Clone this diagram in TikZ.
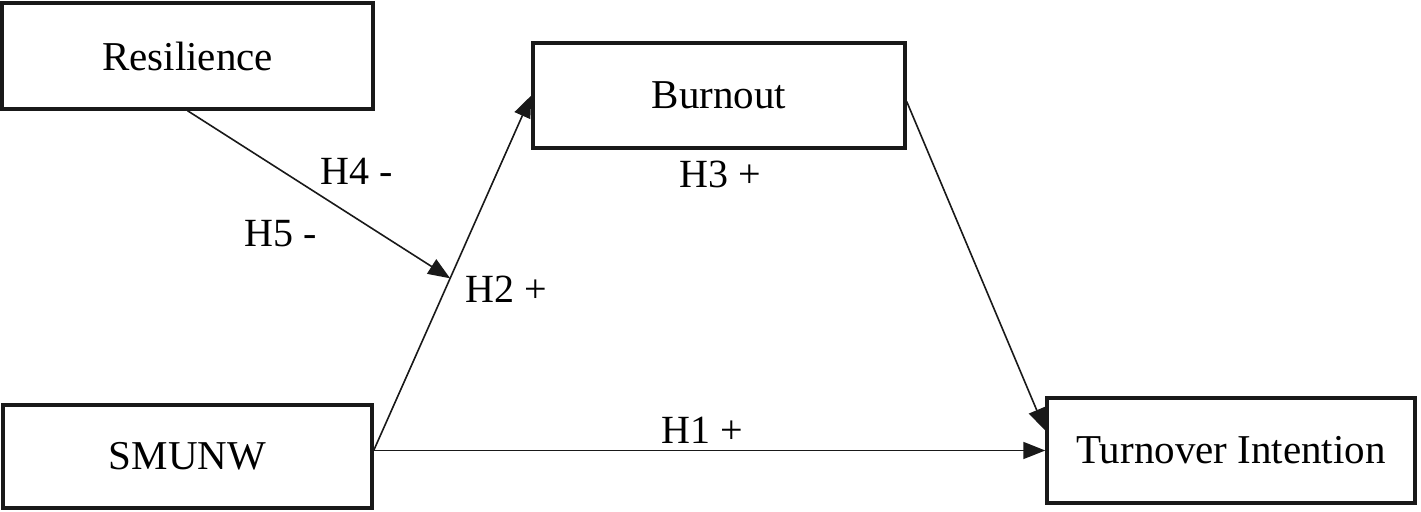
\documentclass[tikz,border=0pt]{standalone}
\usepackage{fontspec}
\setmainfont{Liberation Serif}
\usetikzlibrary{arrows.meta,calc}
\begin{document}
\begin{tikzpicture}[x=0.5pt,y=-0.5pt,
  box/.style={draw=black!90, line width=1.7pt, fill=white, inner sep=0pt,
    font=\fontsize{20.5}{24}\selectfont},
  conn/.style={draw=black!90, line width=0.8pt, -{Triangle[length=11pt,width=8.5pt]}},
  lab/.style={font=\fontsize{20}{24}\selectfont, inner sep=0pt}]
\useasboundingbox (0,0) rectangle (1421,512);
% boxes
\node[box, minimum width=185.5pt, minimum height=53pt] (res) at (187.5,56) {\raisebox{-1.5pt}{Resilience}};
\node[box, minimum width=186pt, minimum height=52.5pt] (burn) at (719,95.5) {\raisebox{-1.5pt}{Burnout}};
\node[box, minimum width=184.5pt, minimum height=51.5pt] (smu) at (187.5,456.5) {\raisebox{-1.5pt}{SMUNW}};
\node[box, minimum width=184pt, minimum height=52.5pt] (turn) at (1231,450.5) {\raisebox{-1.5pt}{Turnover Intention}};
% connection points
\coordinate (s) at (smu.east |- turn.west);
\coordinate (rs) at (res.south);
\coordinate (m) at ($(s)!0.485!(burn.west)$);
\coordinate (bt) at ($(turn.west)+(0,-20)$);
\coordinate (bs) at ($(burn.east)+(0,6)$);
% connectors
\draw[conn] (s) -- (burn.west);
\draw[conn] (s) -- (turn.west);
\draw[conn] (bs) -- (bt);
\draw[conn] (rs) -- (m);
% labels
\node[lab] (h4) at (357,171) {H4 -};
\node[lab] (h5) at (281,234) {H5 -};
\node[lab] (h2) at (506,289) {H2 +};
\node[lab] (h3) at (720,174) {H3 +};
\node[lab] (h1) at (702,430) {H1 +};
\end{tikzpicture}
\end{document}
